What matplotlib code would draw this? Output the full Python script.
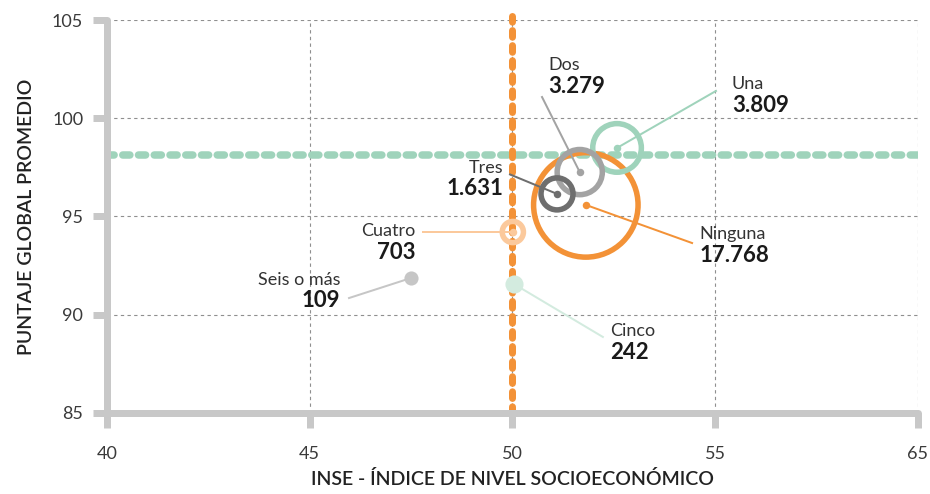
import numpy as np
import matplotlib
matplotlib.use("Agg")
import matplotlib.pyplot as plt

plt.rcParams['font.family'] = ['Lato', 'DejaVu Sans']

# data
categories = ['Ninguna', 'Una', 'Dos', 'Tres', 'Cuatro', 'Cinco', 'Seis o más']
counts = [17768, 3809, 3279, 1631, 703, 242, 109]
count_labels = ['17.768', '3.809', '3.279', '1.631', '703', '242', '109']
inse = [51.81, 52.58, 51.66, 51.10, 50.01, 50.04, 47.50]
puntaje = [95.59, 98.49, 97.26, 96.15, 94.21, 91.56, 91.87]

inse_ref = 50.0
puntaje_ref = 98.13

x_ticks = [40, 45, 50, 55, 60]
x_tick_labels = ['40', '45', '50', '55', '65']
y_ticks = [85, 90, 95, 100, 105]

colors = ['#f39237', '#9fd3bb', '#a3a3a3', '#6e6e6e', '#fbc99c', '#d3ebdf', '#c6c6c6']

# leader end (x, y), text (x, y), alignment
layout = {
    'Ninguna': (54.43, 93.65, 54.62, 94.11, 'left'),
    'Una': (55.02, 101.39, 55.41, 101.74, 'left'),
    'Dos': (50.73, 101.08, 50.88, 102.71, 'left'),
    'Tres': (49.94, 97.14, 49.77, 97.47, 'right'),
    'Cuatro': (47.79, 94.21, 47.60, 94.26, 'right'),
    'Cinco': (52.23, 88.87, 52.40, 89.17, 'left'),
    'Seis o más': (45.97, 90.85, 45.75, 91.77, 'right'),
}

grey = '#c8c8c8'
px = 0.72  # points per pixel at dpi 100

fig = plt.figure(figsize=(9.3, 4.94), dpi=100)
ax = fig.add_axes([0.115, 0.164, 0.872, 0.7955])
ax.set_xlim(40, 60)
ax.set_ylim(85, 105)

# grid
for xv in x_ticks[1:]:
    ax.axvline(xv, color='#8f8f8f', lw=0.8, ls=(0, (3, 3)), zorder=1)
for yv in y_ticks[1:]:
    ax.axhline(yv, color='#8f8f8f', lw=0.8, ls=(0, (3, 3)), zorder=1)

# reference lines
ax.plot([40, 60], [puntaje_ref, puntaje_ref], color='#9fd3bb', lw=7.5 * px,
        ls=(0, (0.95, 1.15)), dash_capstyle='round', zorder=2)
ax.plot([inse_ref, inse_ref], [85, 105.2], color='#f39237', lw=7 * px,
        ls=(0, (0.95, 1.2)), dash_capstyle='round', zorder=2, clip_on=False)

# bubbles
ring_lw = 5.5
for i, cat in enumerate(categories):
    r_out = 3 + 0.39 * np.sqrt(counts[i])
    x, y, c = inse[i], puntaje[i], colors[i]
    lx, ly, tx, ty, ha = layout[cat]
    ax.plot([x, lx], [y, ly], color=c, lw=2 * px, zorder=3 + i)
    if r_out > 11:
        d = 2 * (r_out - ring_lw / 2) * px
        ax.scatter([x], [y], s=d ** 2, facecolors='none', edgecolors=c,
                   linewidths=ring_lw * px, zorder=3 + i)
        ax.scatter([x], [y], s=(7.5 * px) ** 2, color=c, linewidths=0,
                   zorder=3 + i)
    else:
        ax.scatter([x], [y], s=(2 * r_out * px) ** 2, color=c,
                   linewidths=0, zorder=3 + i)
    ax.text(tx, ty, cat, ha=ha, va='center', fontsize=13, color='#333333',
            zorder=20)
    ax.text(tx, ty - 1.07, count_labels[i], ha=ha, va='center', fontsize=16,
            fontweight='bold', color='#1a1a1a', zorder=20)

# axes styling
for s in ['top', 'right']:
    ax.spines[s].set_visible(False)
for s in ['left', 'bottom']:
    ax.spines[s].set_color(grey)
    ax.spines[s].set_linewidth(7 * px)
    ax.spines[s].set_capstyle('round')
ax.set_xticks(x_ticks)
ax.set_xticklabels(x_tick_labels)
ax.set_yticks(y_ticks)
ax.tick_params(axis='x', length=15 * px, width=7 * px, color=grey, pad=13,
               labelsize=13, labelcolor='#3a3a3a')
ax.tick_params(axis='y', length=14 * px, width=7 * px, color=grey, pad=7,
               labelsize=13, labelcolor='#3a3a3a')

ax.set_xlabel('INSE - ÍNDICE DE NIVEL SOCIOECONÓMICO', fontsize=14,
              fontweight='semibold', color='#222222', labelpad=6)
ax.set_ylabel('PUNTAJE GLOBAL PROMEDIO', fontsize=14,
              fontweight='semibold', color='#222222', labelpad=12)

fig.savefig('out.png', dpi=100)
